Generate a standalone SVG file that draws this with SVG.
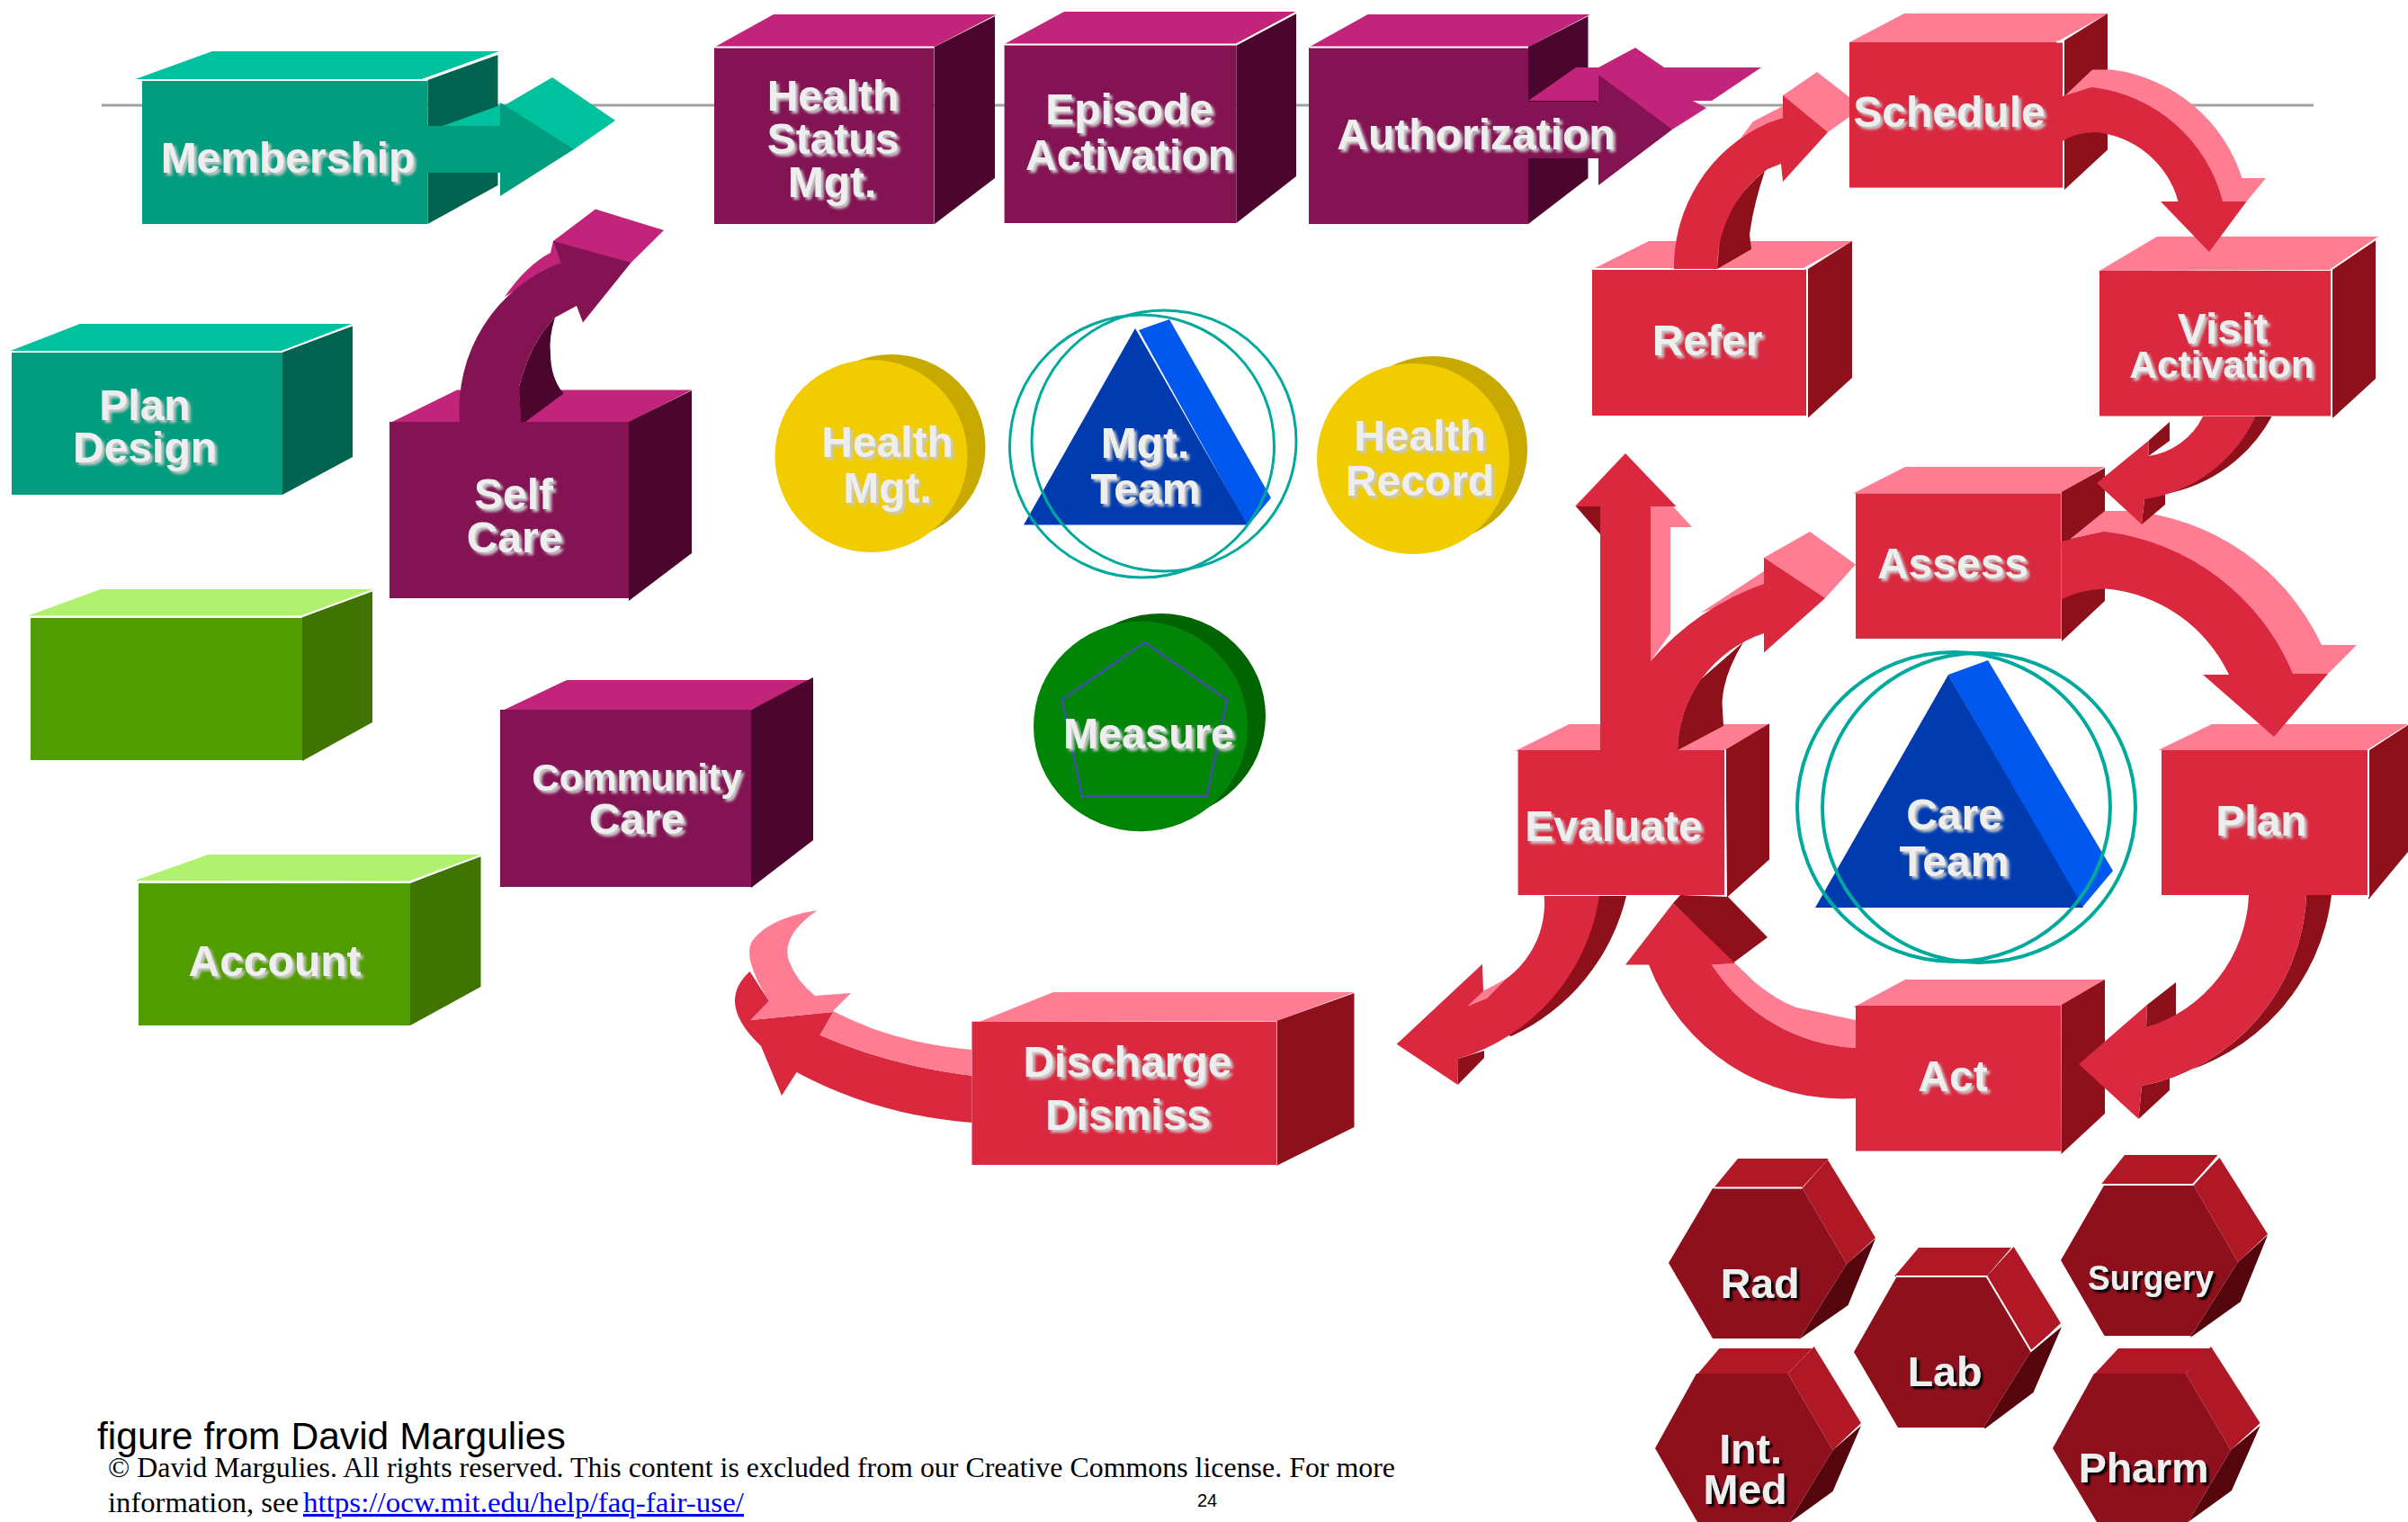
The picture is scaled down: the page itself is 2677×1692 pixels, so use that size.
<svg xmlns="http://www.w3.org/2000/svg" width="2677" height="1692" viewBox="0 0 2677 1692">
<defs>
<filter id="soft" x="-10%" y="-25%" width="120%" height="150%"><feGaussianBlur in="SourceAlpha" stdDeviation="1.6"/><feOffset dx="3" dy="3" result="b"/><feFlood flood-color="#c8c8c8"/><feComposite in2="b" operator="in" result="s"/><feGaussianBlur in="SourceGraphic" stdDeviation="0.6" result="t"/><feMerge><feMergeNode in="s"/><feMergeNode in="t"/></feMerge></filter>
<filter id="hard" x="-10%" y="-25%" width="120%" height="150%"><feGaussianBlur in="SourceAlpha" stdDeviation="1"/><feOffset dx="3" dy="3" result="b"/><feFlood flood-color="#000"/><feComposite in2="b" operator="in" result="s"/><feMerge><feMergeNode in="s"/><feMergeNode in="SourceGraphic"/></feMerge></filter>
</defs>
<style>
.l{font-family:"Liberation Sans",Arial,sans-serif;font-weight:700;font-size:48px;fill:#eee;text-anchor:middle;filter:url(#soft)}
.h{font-family:"Liberation Sans",Arial,sans-serif;font-weight:700;font-size:46.5px;fill:#eee;text-anchor:middle;filter:url(#hard)}
.tf{fill:#029d7e}.tt{fill:#00c19e}.ts{fill:#016450}
.pf{fill:#841354}.pt{fill:#c1247a}.ps{fill:#4c052d}
.rf{fill:#da283e}.rt{fill:#ff7d92}.rs{fill:#8d101b}
.gf{fill:#519c00}.gt{fill:#b0f270}.gs{fill:#3f7400}
.hf{fill:#8e101c}.ht{fill:#b01825}.hs{fill:#55060c}
.y1{fill:#f0cc00}.y2{fill:#c8a900}
.b1{fill:#003cb0}.b2{fill:#0058ef}
.e{fill:none;stroke:#00a99d}
.w{fill:none;stroke:#fff;stroke-width:2}
.foot{font-family:"Liberation Serif","Times New Roman",serif;font-size:31px;fill:#000}
.fig{font-family:"Liberation Sans",Arial,sans-serif;font-size:42.6px;fill:#000}
</style>
<rect width="2677" height="1692" fill="#fff"/>
<line id="rule" x1="113" y1="117" x2="2572" y2="117" stroke="#a0a0a0" stroke-width="3"/>

<g id="node-membership"><polygon class="tt" points="149,88.5 236,57 555,57 469,88.5"/><polygon class="ts" points="475.5,89 553.5,61 553.5,206 475.5,249"/><rect class="tf" x="158" y="90" width="317.5" height="159"/><polyline class="w" points="150,89 469,89 553,59"/><text class="l" x="320" y="192">Membership</text></g>
<g id="node-plan-design"><polygon class="tt" points="9,391 89,360 393,360 313,391"/><polygon class="ts" points="314,391 392,362.5 392,508 314,550"/><rect class="tf" x="13" y="392" width="301" height="158"/><polyline class="w" points="9,391 313,391 392,361"/><text class="l" x="161" y="467">Plan</text><text class="l" x="161" y="514">Design</text></g>
<g id="node-blank"><polygon class="gt" points="30,685 112,655 416,655 335,685"/><polygon class="gs" points="336,686 414,657 414,803 336,846"/><rect class="gf" x="34" y="687" width="302" height="158"/><polyline class="w" points="30,685.500 335,685.500 415,656"/></g>
<g id="node-account"><polygon class="gt" points="150,979 231.500,950 536,950 454.500,980"/><polygon class="gs" points="456,982 534.500,951.500 534.500,1097 456,1140"/><rect class="gf" x="154" y="982" width="302" height="158"/><polyline class="w" points="150,980.500 455,980.500 535,951"/><text class="l" x="305.500" y="1085">Account</text></g>
<g id="node-self-care"><polygon class="pt" points="436,469 508,433.500 769,433.500 700,469"/><polygon class="ps" points="699,469 769,434 769,615 699,668"/><rect class="pf" x="433" y="469" width="266" height="196"/><text class="l" x="571" y="566">Self</text><text class="l" x="572" y="614">Care</text></g>
<g id="node-community-care"><polygon class="pt" points="560.600,789 630,756 903,756 835,789"/><polygon class="ps" points="835,789 904,753 904,934 835,987"/><rect class="pf" x="556" y="789" width="279" height="197"/><text class="l" x="708" y="879" style="font-size:42.500px">Community</text><text class="l" x="708" y="927">Care</text></g>
<g id="node-health-status"><polygon class="pt" points="795,52 860,16 1107.500,16 1038.600,52"/><polygon class="ps" points="1039,52 1106,18 1106,198 1039,249"/><rect class="pf" x="794" y="53" width="244.600" height="196"/><polyline class="w" points="795,52.500 1038,52.500"/><text class="l" x="926" y="123">Health</text><text class="l" x="926" y="171">Status</text><text class="l" x="925" y="219">Mgt.</text></g>
<g id="node-episode"><polygon class="pt" points="1116.600,49 1183,13 1441,13 1374.500,49"/><polygon class="ps" points="1374.500,49 1441,14 1441,196 1374.500,248"/><rect class="pf" x="1116.600" y="50" width="257.900" height="198"/><polyline class="w" points="1117,49.500 1374.500,49.500 1441,14"/><text class="l" x="1255.500" y="138">Episode</text><text class="l" x="1256" y="189">Activation</text></g>
<g id="node-authorization"><polygon class="pt" points="1456,52 1520.600,16 1767.800,16 1699,52"/><polygon class="ps" points="1699,52 1765.500,18 1765.500,198 1699,249"/><rect class="pf" x="1455" y="53" width="244" height="196"/><polyline class="w" points="1456,52.500 1699,52.500"/></g>

<g id="node-health-mgt"><ellipse class="y2" cx="991" cy="497" rx="104.500" ry="103"/><ellipse class="y1" cx="968.500" cy="507" rx="107" ry="107"/><text class="l" x="986.600" y="508">Health</text><text class="l" x="986.600" y="559">Mgt.</text></g>
<g id="node-health-record"><ellipse class="y2" cx="1593" cy="499.500" rx="105" ry="103.500"/><ellipse class="y1" cx="1571" cy="510" rx="107" ry="106"/><text class="l" x="1578.500" y="501">Health</text><text class="l" x="1578.500" y="551">Record</text></g>
<g id="node-mgt-team"><polygon class="b2" points="1266,367 1300,355 1413,553.500 1387,585"/><polygon class="b1" points="1262,365 1138,583.500 1387,583.500"/><ellipse class="e" cx="1269.500" cy="496" rx="147" ry="146" stroke-width="3"/><ellipse class="e" cx="1294" cy="490" rx="147" ry="145" stroke-width="3"/><text class="l" x="1273" y="509">Mgt.</text><text class="l" x="1273.500" y="560">Team</text></g>
<g id="node-measure"><ellipse cx="1290" cy="796" rx="117" ry="114" fill="#006400"/><ellipse cx="1268" cy="807.500" rx="119" ry="116.700" fill="#008507"/><polygon points="1272.700,714 1364,778 1341.700,885 1203,885 1180.700,778" fill="none" stroke="#4050a8" stroke-width="2.500"/><text class="l" x="1277" y="832" textLength="190" lengthAdjust="spacingAndGlyphs">Measure</text></g>

<g id="node-schedule"><polygon class="rt" points="2056,47 2117,15 2343,15 2286,47"/><polygon class="rs" points="2295,45 2343,15 2343,166.500 2295,211"/><rect class="rf" x="2056" y="47" width="237" height="161.600"/><polyline class="w" points="2286,46.500 2293,46.500"/><text class="l" x="2167" y="141">Schedule</text></g>
<g id="node-refer"><polygon class="rt" points="1771,299 1833,268 2059.500,268 2003,299"/><polygon class="rs" points="2010,299 2059,268 2059,420 2010,464.500"/><rect class="rf" x="1770" y="299.600" width="238" height="162.400"/><polyline class="w" points="1771,299 2007,299"/><text class="l" x="1898" y="395">Refer</text></g>
<g id="node-visit"><polygon class="rt" points="2334,301 2398,263 2645,263 2591,300"/><polygon class="rs" points="2593,299 2641,267 2641,421 2593,465"/><rect class="rf" x="2334" y="301" width="257" height="161.500"/><polyline class="w" points="2591,300 2644,264"/><text class="l" x="2471" y="381.600">Visit</text><text class="l" x="2470" y="419.600" style="font-size:42.500px">Activation</text></g>
<g id="node-assess"><polygon class="rt" points="2060,548.500 2118,519 2340,519 2291.500,548.500"/><polygon class="rs" points="2292,547 2340,520 2340,668 2292,713"/><rect class="rf" x="2063" y="548.500" width="228.500" height="161.500"/><text class="l" x="2171" y="643">Assess</text></g>
<g id="node-plan"><polygon class="rt" points="2399,834 2459,805 2677,805 2631,834"/><polygon class="rs" points="2634,834 2677,806 2677,947 2633,1000"/><rect class="rf" x="2403" y="834" width="229" height="161"/><polyline class="w" points="2633,834 2633,997"/><text class="l" x="2514" y="928.600">Plan</text></g>
<g id="node-evaluate"><polygon class="rt" points="1684,835 1744.500,805 1967,805 1916,834"/><polygon class="rs" points="1918.500,833 1967,804.600 1967,955.600 1920,997.500"/><rect class="rf" x="1687.600" y="834" width="229.400" height="161"/><polyline class="w" points="1918,834 1918,996"/><text class="l" x="1794" y="935">Evaluate</text></g>
<g id="node-act"><polygon class="rt" points="2060,1120 2118,1089 2341,1089 2291.500,1118"/><polygon class="rs" points="2292,1117 2340,1089 2340,1238 2291.500,1283"/><rect class="rf" x="2063" y="1118" width="228.500" height="161.600"/><text class="l" x="2171" y="1213">Act</text></g>
<g id="node-discharge"><polygon class="rt" points="1089,1135.700 1171,1103 1505.500,1103 1419,1135"/><polygon class="rs" points="1419,1135 1505.500,1104 1505.500,1253 1419,1296"/><rect class="rf" x="1080.500" y="1135.700" width="338.500" height="159.300"/><line x1="1419.500" y1="1135" x2="1419.500" y2="1295" stroke="#e9b0b5" stroke-width="1"/><text class="l" x="1253.500" y="1196.700">Discharge</text><text class="l" x="1254" y="1256">Dismiss</text></g>
<g id="node-care-team"><polygon class="b2" points="2166,750 2210,734 2349,968 2314.600,1009"/><polygon class="b1" points="2166,750 2018,1009 2316,1009"/><ellipse class="e" cx="2172" cy="897" rx="174" ry="172" stroke-width="4"/><ellipse class="e" cx="2200" cy="898" rx="174" ry="172" stroke-width="4"/><text class="l" x="2172.500" y="922.400">Care</text><text class="l" x="2172.500" y="973.500">Team</text></g>

<g id="node-rad"><polygon class="ht" points="1905.700,1320 1932,1288 2032.700,1288 2003.600,1320"/><polygon class="ht" points="2003.600,1321 2031.700,1289 2085,1376 2053,1405"/><polygon class="hs" points="2053,1405 2085,1377 2054.500,1451 1998.700,1490 2001,1488"/><polygon class="hf" points="1904,1321 2003.600,1321 2053,1405 2001,1488 1904,1488 1855,1404"/><line x1="1905" y1="1320.500" x2="2003" y2="1320.500" class="w"/><text class="h" x="1956.600" y="1442.700">Rad</text></g>
<g id="node-surgery"><polygon class="ht" points="2335.600,1317 2362,1284 2465.500,1284 2438,1317"/><polygon class="ht" points="2438,1317 2467.500,1287 2521,1372 2488,1403"/><polygon class="hs" points="2488,1403 2521,1373 2491,1447 2435,1487 2436,1485"/><polygon class="hf" points="2339.500,1317 2438,1317 2488,1403 2436,1485 2339.500,1485 2291,1401"/><polyline class="w" points="2336,1317 2438,1317 2466,1286"/><text class="h" x="2391" y="1434" textLength="140" lengthAdjust="spacingAndGlyphs" style="font-size:38px">Surgery</text></g>
<g id="node-lab"><polygon class="ht" points="2106,1419 2133,1387 2236,1387 2208.600,1419"/><polygon class="ht" points="2208.600,1419 2238.700,1386 2291,1471 2258,1502"/><polygon class="hs" points="2258,1502 2292,1475 2260.500,1548 2207,1588 2205,1587"/><polygon class="hf" points="2108.800,1419 2208.600,1419 2258,1502 2205,1587 2110,1587 2061,1503"/><polyline class="w" points="2108,1419 2208.600,1419 2258,1502 2291,1474"/><text class="h" x="2162" y="1540.700">Lab</text></g>
<g id="node-int-med"><polygon class="ht" points="1885,1530 1911.500,1499 2014.700,1499 1987.600,1527"/><polygon class="ht" points="1987.600,1527 2016.700,1497 2069,1582 2037.500,1612"/><polygon class="hs" points="2037.500,1612 2069,1585 2037.500,1658 1990.500,1692 1989,1692"/><polygon class="hf" points="1886,1527 1987.600,1527 2037.500,1612 1989,1692 1887,1692 1840,1610"/><text class="h" x="1946" y="1626.700">Int.</text><text class="h" x="1940" y="1671.700">Med</text></g>
<g id="node-pharm"><polygon class="ht" points="2328,1528 2355,1499 2458,1499 2430,1527"/><polygon class="ht" points="2430,1527 2458,1497 2512.600,1582 2480,1612"/><polygon class="hs" points="2480,1612 2512.600,1585 2481,1657 2432.600,1692"/><polygon class="hf" points="2328,1527 2430,1527 2480,1612 2432.600,1692 2331,1692 2282,1610"/><text class="h" x="2383" y="1647.700">Pharm</text></g>

<g id="connectors">
<g id="arrow-membership"><polygon class="tt" points="492,140 556,117 561,117 614,86 684,134 638,166 556,140"/><polygon class="tf" points="475,140 556,140 556,114 638,166 556,218 556,192 475,192"/></g>
<g id="arrow-self-care"><path class="pt" d="M561 330Q585 295 612 281L615 268L662 232.500L738 256L701.500 292L623.500 292Z"/><path class="ps" d="M617 353Q610 375 612 393Q612 420 626.500 437.500L584 469L579 469L577 430Q590 380 617 353Z"/><path class="pf" d="M511 469A175 175 0 0 1 623.500 292L615 268L701.500 292L648 358.500L641 340L617 353Q590 380 577 430L579 469Z"/></g>
<g id="arrow-authorization"><polygon class="pt" points="1699,112 1752,75 1777,75 1818,53 1850,75 1958,75 1903,112 1882,112 1897,120 1859,144 1777,113"/><polygon class="ps" points="1700,113 1775,113 1775,112 1700,112"/><polygon class="pf" points="1699,113 1777,113 1777,83 1859,144 1777,206 1777,176 1699,176"/></g>

<g id="arrow-refer-schedule"><polygon class="rt" points="1934,155 1949,135 1982,118 1982,106 2020,80 2056,108 2056,130 2032,147 1982,131"/><path class="rs" d="M1962 190Q1949 229 1945 261L1947 277L1909 299L1912 265Q1920 225 1962 190Z"/><path class="rf" d="M1861 299A175 175 0 0 1 1965 137L1982 131L1982 106L2032 147L1982 202L1980 182L1965 188A136 136 0 0 0 1909 299Z"/></g>
<g id="arrow-schedule-visit"><path class="rt" d="M2295 107L2326 77.500L2348 77.500A175 175 0 0 1 2492.500 198L2519 198L2497.500 224L2471 224L2326 97Z"/><path class="rf" d="M2293 107L2326 97A170 170 0 0 1 2471 224L2497.500 224L2456 280L2402 224L2421.500 224A105 105 0 0 0 2329 147Q2305 148 2293 157Z"/></g>
<g id="arrow-assess-plan"><path class="rt" d="M2301 599.500L2340 568L2367.500 568A260 260 0 0 1 2581 717L2620 717L2588 749L2549 749L2340 591Z"/><path class="rf" d="M2291.500 602L2340 591A260 260 0 0 1 2549 749L2588 749L2528 819L2449 750L2478 750A168 168 0 0 0 2341 654.600Q2310 656 2291.500 667Z"/></g>
<g id="arrow-visit-assess"><path class="rs" d="M2507 463L2525.600 463A170 170 0 0 1 2407 549L2407 561L2381 583L2384 555ZM2388.500 490L2412 469L2412 490L2388.500 507Z"/><path class="rf" d="M2449 463L2507.500 463A161 161 0 0 1 2384 555L2381 583L2331 537L2388.500 490L2388.500 507A80 80 0 0 0 2449 463Z"/></g>
<g id="arrow-plan-act"><path class="rs" d="M2564 995L2592 995A235 235 0 0 1 2412 1196L2412 1212L2377.500 1244L2381 1207A225 225 0 0 0 2564 995ZM2387 1117L2419 1092L2419 1133L2386 1142Z"/><path class="rf" d="M2500 995L2564 995A225 225 0 0 1 2381 1207L2377.500 1244L2311 1183L2387 1117L2386 1142A160 160 0 0 0 2500 995Z"/></g>
<g id="arrow-act-evaluate"><polygon class="rs" points="1860,1004 1868,995 1921,997 1965,1042 1926,1071"/><path class="rt" d="M1903 1072.500L1929 1071L1951 1092Q1975 1112 1997 1120L2063 1134L2063 1165A203 203 0 0 1 1903 1072.500Z"/><path class="rf" d="M2063 1221A231 231 0 0 1 1833 1072.500L1807 1072.500L1860 1004L1929 1071L1903 1072.500A203 203 0 0 0 2063 1165Z"/></g>
<g id="arrow-evaluate-assess"><polygon class="rt" points="1835,563 1860,563 1881,586 1857,586 1857,704 1835,735"/><polygon class="rs" points="1752,563 1779,563 1779,594"/><polygon class="rt" points="1891,681 1961,635 1961,620 2012,591 2063,627.500 2029,665 1961,660"/><path class="rs" d="M1938 714Q1916 750 1914.500 780.600L1916 807L1865 834Q1866 790 1891 755Z"/><path class="rf" d="M1779 834L1779 563L1751 563L1807 504L1863.500 563L1835 563L1835 735A300 300 0 0 1 1961 649L1961 620L2029 665L1961 725.500L1961 704A140 140 0 0 0 1865 834Z"/></g>
<g id="arrow-evaluate-discharge"><path class="rs" d="M1778 996L1808 996A230 230 0 0 1 1680 1152L1650 1140ZM1621 1177L1650 1168L1650 1176L1620.700 1206Z"/><path class="rf" d="M1716.700 996L1778 996A223 223 0 0 1 1621 1177L1620.700 1206L1552.700 1160.700L1648 1071.700L1649 1101.700A104 104 0 0 0 1716.700 996Z"/><polygon class="rt" points="1649,1101.700 1675,1087.700 1653,1110 1631,1119"/></g>
<g id="arrow-discharge"><path class="rf" d="M1080.500 1248Q975 1240 885.600 1192L869 1218L846 1163Q795 1115 833.600 1080L855 1113L834.600 1134L926.400 1125L911.600 1150.700Q990 1185 1080.500 1195.700Z"/><path class="rt" d="M1080.500 1195.700Q990 1185 911.600 1150.700L926.400 1125L834.600 1134L855 1113Q822 1060 838.700 1043Q858 1020 908.600 1012Q868 1040 877 1068Q885 1090 906 1107L946 1104L926 1124Q995 1160 1080.500 1167Z"/></g>
</g>

<g id="label-authorization"><text class="l" x="1641" y="166">Authorization</text></g>
<g id="footer">
<text class="fig" x="108" y="1611">figure from David Margulies</text>
<text class="foot" x="120" y="1642" textLength="1431" lengthAdjust="spacingAndGlyphs">© David Margulies. All rights reserved. This content is excluded from our Creative Commons license. For more</text>
<text class="foot" x="120" y="1681" textLength="212" lengthAdjust="spacingAndGlyphs">information, see</text>
<text class="foot" x="337" y="1681" textLength="490" lengthAdjust="spacingAndGlyphs" style="fill:#0000ff;text-decoration:underline">https://ocw.mit.edu/help/faq-fair-use/</text>
<text x="1342" y="1675" text-anchor="middle" style="font-family:'Liberation Sans',Arial,sans-serif;font-size:20px;fill:#000">24</text>
</g>
</svg>
